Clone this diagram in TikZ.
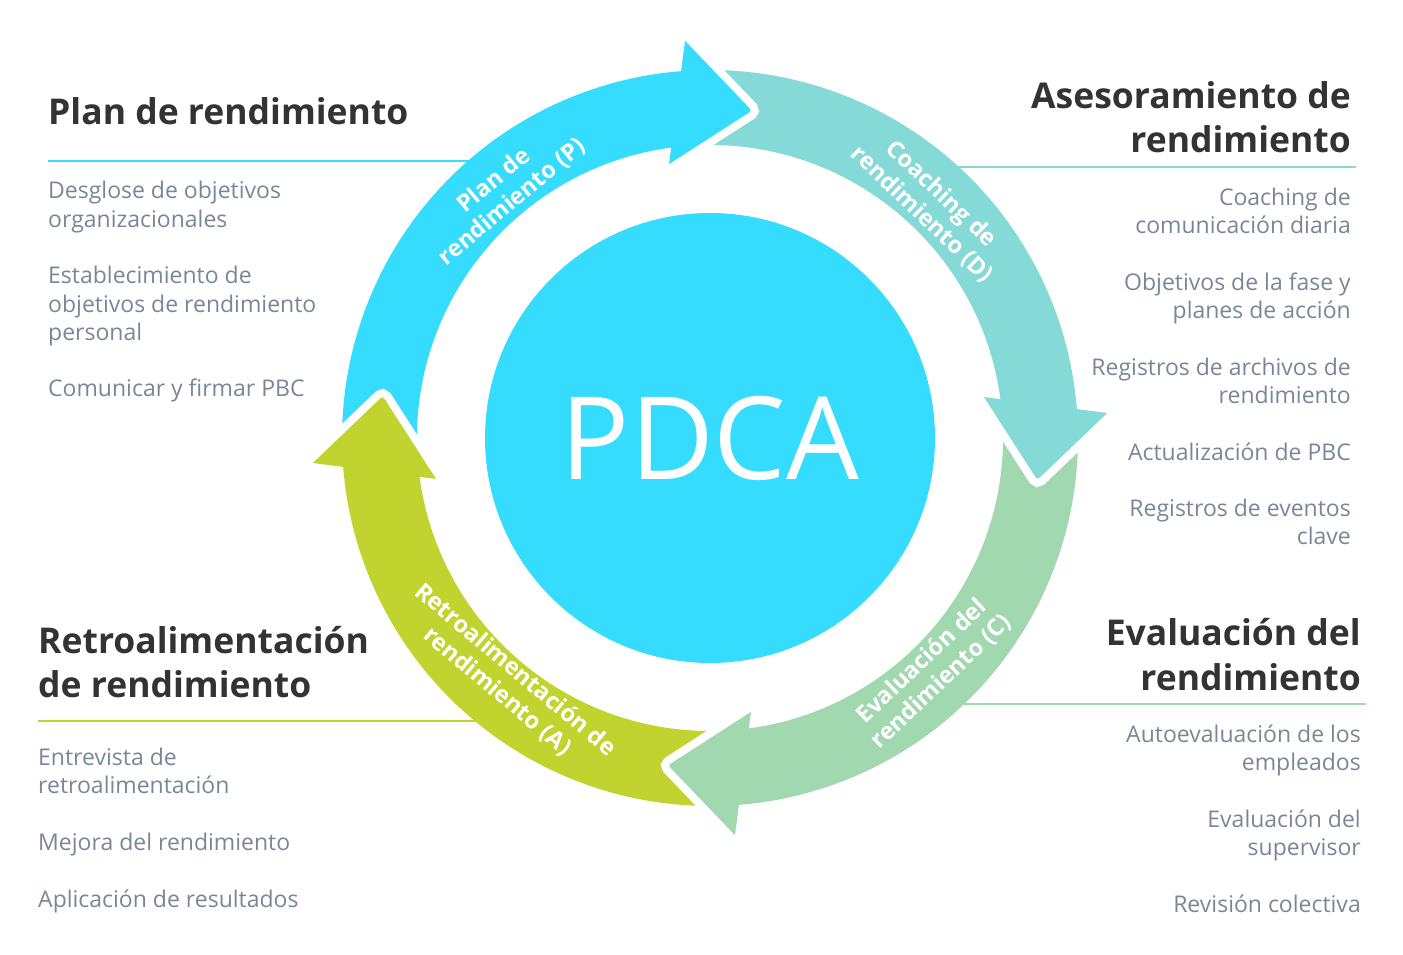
\documentclass[tikz,border=0pt]{standalone}
\usepackage{fontspec}
\setmainfont{Open Sans}
\usetikzlibrary{positioning}
\definecolor{PdcaBlue}{HTML}{36DCFD}
\definecolor{PdcaTeal}{HTML}{85D9D6}
\definecolor{PdcaGreen}{HTML}{A2D8B0}
\definecolor{PdcaLime}{HTML}{C1D32F}
\definecolor{PdcaHead}{HTML}{333333}
\definecolor{PdcaText}{HTML}{7A8696}

\begin{document}
\begin{tikzpicture}[x=1pt, y=1pt,
   ttl/.style={font=\fontsize{35.5}{44}\selectfont\bfseries, text=PdcaHead, inner sep=0pt},
   itm/.style={font=\fontsize{23}{28.3}\selectfont, text=PdcaText, inner sep=0pt},
   rule/.style={line width=2pt},
   arclbl/.style={font=\fontsize{23.5}{28}\selectfont\bfseries, text=white, align=center, inner sep=0pt}]
  \useasboundingbox (0,0) rectangle (1403,954);
  % Trennlinien (laufen unter die Pfeile)
  \draw[rule, PdcaBlue]  (48,793)  coordinate (rp) -- (490,793);
  \draw[rule, PdcaTeal]  (940,787) -- (1356,787) coordinate (rd);
  \draw[rule, PdcaLime]  (38,233)  coordinate (ra) -- (500,233);
  \draw[rule, PdcaGreen] (940,250) -- (1366,250) coordinate (rc);
  % Kreis in der Mitte
  \node[circle, fill=PdcaBlue, minimum size=450pt, inner sep=0pt, text=white,
        font=\fontsize{115}{115}\selectfont] (pdca) at (710,516) {PDCA};
  \begin{scope}[shift={(pdca.center)}]
    % erst alle Pfeilkoerper, dann alle Spitzen mit weissem Rand
    \foreach \c/\a in {PdcaBlue/90, PdcaTeal/0, PdcaGreen/-90, PdcaLime/180}
      \fill[\c] (\a+94.5:368) arc[start angle=\a+94.5, end angle=\a+4, radius=368]
        -- (\a+7:293) arc[start angle=\a+7, end angle=\a+94.5, radius=293] -- cycle;
    \foreach \c/\a in {PdcaBlue/90, PdcaTeal/0, PdcaGreen/-90, PdcaLime/180}
      \fill[\c, rounded corners=3pt, preaction={draw=white, line width=16pt}]
        (\a+3.6:398) -- (\a-7.3:330) -- (\a+8.5:277);
    \node[arclbl, rotate=40]    (lp) at (130:322)  {Plan de\\rendimiento (P)};
    \node[arclbl, rotate=-43.5] (ld) at (46.5:322) {Coaching de\\rendimiento (D)};
    \node[arclbl, rotate=43.5]  (lc) at (-46.5:322) {Evaluación del\\rendimiento (C)};
    \node[arclbl, rotate=-40]   (la) at (230:317)  {Retroalimentación de\\rendimiento (A)};
  \end{scope}
  % Plan (oben links) -- base = Grundlinie der letzten Zeile
  \node[ttl, anchor=base west] (tp) at (48,829) {Plan de rendimiento};
  \node[itm, anchor=base west, align=left] (ip) at (48,557)
    {Desglose de objetivos\\organizacionales\\[28.3pt]Establecimiento de\\objetivos de rendimiento\\personal\\[28.3pt]Comunicar y firmar PBC};
  % Coaching (oben rechts)
  \node[ttl, anchor=base east, align=right] (td) at (1351,801) {Asesoramiento de\\rendimiento};
  \node[itm, anchor=base east, align=right] (id) at (1351,409)
    {Coaching de\\comunicación diaria\\[28.3pt]Objetivos de la fase y\\planes de acción\\[28.3pt]Registros de archivos de\\rendimiento\\[28.3pt]Actualización de PBC\\[28.3pt]Registros de eventos\\clave};
  % Retroalimentacion (unten links)
  \node[ttl, anchor=base west, align=left] (ta) at (38,256) {Retroalimentación\\de rendimiento};
  \node[itm, anchor=base west, align=left] (ia) at (38,47)
    {Entrevista de\\retroalimentación\\[28.3pt]Mejora del rendimiento\\[28.3pt]Aplicación de resultados};
  % Evaluacion (unten rechts)
  \node[ttl, anchor=base east, align=right] (tc) at (1361,264) {Evaluación del\\rendimiento};
  \node[itm, anchor=base east, align=right] (ic) at (1361,42)
    {Autoevaluación de los\\empleados\\[28.3pt]Evaluación del\\supervisor\\[28.3pt]Revisión colectiva};
\end{tikzpicture}
\end{document}
